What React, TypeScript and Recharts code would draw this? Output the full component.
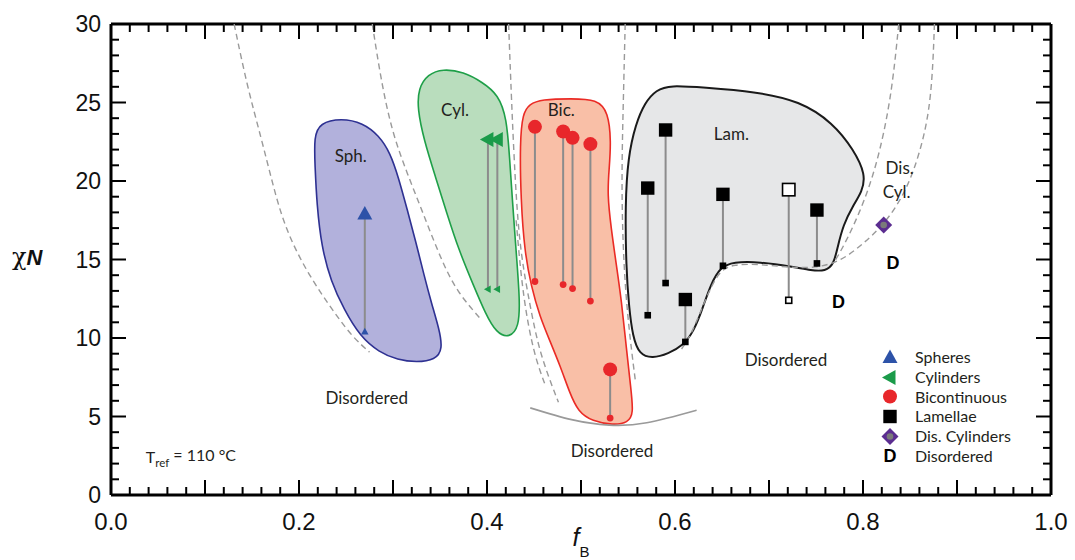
import React from 'react';
import { ComposedChart, XAxis, YAxis, Scatter, Legend } from 'recharts';

// Phase diagram: segregation strength chiN against block fraction fB

// samples: f = fB, hi = chiN of the ordered marker, lo = chiN of the lower end of the stem
const spheres = [{ f: 0.27, hi: 17.9, lo: 10.4 }];
const cylinders = [
  { f: 0.401, hi: 22.65, lo: 13.1 },
  { f: 0.411, hi: 22.65, lo: 13.1 },
];
const bicontinuous = [
  { f: 0.451, hi: 23.45, lo: 13.6 },
  { f: 0.481, hi: 23.15, lo: 13.4 },
  { f: 0.491, hi: 22.75, lo: 13.15 },
  { f: 0.51, hi: 22.35, lo: 12.35 },
  { f: 0.531, hi: 8.0, lo: 4.9 },
];
const lamellae = [
  { f: 0.571, hi: 19.55, lo: 11.45 },
  { f: 0.59, hi: 23.25, lo: 13.5 },
  { f: 0.611, hi: 12.45, lo: 9.75 },
  { f: 0.651, hi: 19.15, lo: 14.6 },
  { f: 0.751, hi: 18.15, lo: 14.75 },
];
const lamellaeOpen = [{ f: 0.721, hi: 19.45, lo: 12.4 }];
const disCylinders = [{ f: 0.822, chiN: 17.2 }];
const disorderedMarks = [
  { f: 0.832, chiN: 14.8 },
  { f: 0.774, chiN: 12.3 },
];

// outlines of the ordered regions, [fB, chiN]
const sphRegion = [
  [0.222, 23.7], [0.245, 24.0], [0.268, 23.7], [0.285, 22.9], [0.297, 21.8], [0.306, 20.2],
  [0.315, 18.2], [0.324, 16.2], [0.333, 14.0], [0.341, 12.2], [0.349, 10.6], [0.353, 9.3],
  [0.345, 8.6], [0.325, 8.45], [0.305, 8.6], [0.285, 9.1], [0.265, 10.1], [0.248, 11.8],
  [0.234, 13.6], [0.224, 15.8], [0.219, 18.5], [0.217, 21.0], [0.216, 22.8],
];
const cylRegion = [
  [0.327, 25.9], [0.337, 26.8], [0.353, 27.15], [0.375, 26.95], [0.395, 26.3], [0.412, 25.5],
  [0.421, 24.0], [0.424, 21.5], [0.427, 18.8], [0.431, 15.5], [0.435, 12.4], [0.434, 10.7],
  [0.424, 10.0], [0.41, 10.3], [0.398, 11.6], [0.386, 13.3], [0.37, 15.6], [0.357, 18.0],
  [0.345, 20.3], [0.333, 22.6], [0.326, 24.6],
];
const bicRegion = [
  [0.445, 24.9], [0.458, 25.2], [0.49, 25.25], [0.517, 25.2], [0.529, 24.4], [0.532, 22.5],
  [0.53, 20.8], [0.528, 19.2], [0.532, 17.0], [0.538, 14.5], [0.543, 12.4], [0.548, 9.5],
  [0.553, 6.8], [0.556, 5.2], [0.55, 4.6], [0.534, 4.45], [0.512, 4.7], [0.497, 5.3],
  [0.488, 6.5], [0.478, 8.2], [0.467, 9.8], [0.456, 11.4], [0.447, 13.3], [0.44, 15.5],
  [0.436, 18.8], [0.435, 22.5], [0.438, 24.3],
];
const lamRegion = [
  [0.568, 25.0], [0.58, 25.8], [0.595, 26.1], [0.63, 25.95], [0.685, 25.7], [0.733, 25.1],
  [0.768, 23.7], [0.79, 22.0], [0.803, 20.4], [0.799, 19.3], [0.789, 18.4], [0.779, 17.2],
  [0.773, 15.8], [0.769, 14.7], [0.76, 14.25], [0.745, 14.3], [0.725, 14.55], [0.69, 14.85],
  [0.662, 14.85], [0.648, 14.5], [0.638, 13.4], [0.63, 12.0], [0.62, 10.4], [0.608, 9.5],
  [0.593, 9.0], [0.576, 8.7], [0.562, 8.95], [0.555, 10.1], [0.551, 12.0], [0.548, 14.5],
  [0.547, 18.5], [0.55, 21.5], [0.558, 23.6],
];

// theoretical boundaries (dashed) and the lower disordered boundary (solid)
const boundaryA = [[0.131, 30], [0.145, 26], [0.16, 22.7], [0.172, 19.8], [0.185, 17.0], [0.209, 14.1], [0.24, 11.4], [0.258, 10.0], [0.275, 9.1]];
const boundaryB = [[0.278, 30], [0.287, 26.5], [0.299, 23.1], [0.315, 20.5], [0.331, 18.1], [0.353, 14.7], [0.37, 12.8], [0.392, 11.3]];
const boundaryC = [[0.423, 30], [0.426, 25.2], [0.43, 19.9], [0.435, 15.6], [0.446, 12.0], [0.456, 9.0], [0.476, 5.9]];
const boundaryC2 = [[0.431, 17.5], [0.436, 14.0], [0.443, 11.0], [0.452, 8.6], [0.462, 7.0]];
const boundaryD = [[0.547, 30], [0.545, 25], [0.543, 20], [0.545, 15], [0.55, 11], [0.558, 7.2]];
const boundaryE = [[0.838, 30], [0.83, 25.2], [0.814, 20.8], [0.796, 17.9], [0.779, 15.8], [0.77, 14.9]];
const boundaryF = [
  [0.876, 30], [0.873, 25.2], [0.862, 22.0], [0.845, 19.2], [0.822, 17.2], [0.8, 16.0],
  [0.777, 14.9], [0.75, 14.45], [0.72, 14.5], [0.69, 14.7], [0.662, 14.7], [0.648, 14.3],
  [0.638, 13.2], [0.628, 11.8], [0.617, 10.2], [0.607, 9.3],
];
const odtBottom = [[0.446, 5.55], [0.49, 4.8], [0.53, 4.45], [0.57, 4.6], [0.623, 5.4]];

const regionLabels = [
  { x: 0.255, y: 21.6, text: 'Sph.' },
  { x: 0.366, y: 24.5, text: 'Cyl.' },
  { x: 0.479, y: 24.5, text: 'Bic.' },
  { x: 0.66, y: 23.0, text: 'Lam.' },
  { x: 0.272, y: 6.2, text: 'Disordered' },
  { x: 0.718, y: 8.6, text: 'Disordered' },
  { x: 0.533, y: 2.8, text: 'Disordered' },
];
const sideLabels = [
  { x: 0.824, y: 20.8, text: 'Dis.' },
  { x: 0.821, y: 19.3, text: 'Cyl.' },
];
const noteLabel = [{ x: 0.037, y: 2.4 }];

const xTicks = Array.from({ length: 51 }, (_, i) => i / 50);
const yTicks = Array.from({ length: 31 }, (_, i) => i);

const legendItems = [
  { kind: 'sph', name: 'Spheres' },
  { kind: 'cyl', name: 'Cylinders' },
  { kind: 'bic', name: 'Bicontinuous' },
  { kind: 'lam', name: 'Lamellae' },
  { kind: 'dcyl', name: 'Dis. Cylinders' },
  { kind: 'dis', name: 'Disordered' },
];

const FONT = 'Lato, "Open Sans", sans-serif';
const AXIS_FONT = '"Liberation Sans", Arial, sans-serif';
const TEXT = '#231f20';
const BLUE = '#2d52a8';
const GREEN = '#1b9b4a';
const RED = '#e8272b';
const PURPLE = '#5b2d90';
const STEM = '#8c8c8c';

const pts = (arr: number[][]) => arr.map(([x, y]) => ({ x, y }));
const stemPts = (m: { f: number; hi: number; lo: number }) => [
  { x: m.f, y: m.hi, big: true },
  { x: m.f, y: m.lo, big: false },
];

const Empty = () => <g />;

function marker(kind: string, cx: number, cy: number, big: boolean) {
  const s = big ? 1 : 0.5;
  switch (kind) {
    case 'sph':
      return (
        <polygon
          points={`${cx},${cy - 8 * s} ${cx + 7.5 * s},${cy + 5.5 * s} ${cx - 7.5 * s},${cy + 5.5 * s}`}
          fill={BLUE}
        />
      );
    case 'cyl':
      return (
        <polygon
          points={`${cx - 8 * s},${cy} ${cx + 5.5 * s},${cy - 7.5 * s} ${cx + 5.5 * s},${cy + 7.5 * s}`}
          fill={GREEN}
        />
      );
    case 'bic':
      return <circle cx={cx} cy={cy} r={big ? 7 : 3.4} fill={RED} />;
    case 'lam': {
      const h = big ? 6.7 : 3.3;
      return <rect x={cx - h} y={cy - h} width={2 * h} height={2 * h} fill="#000" />;
    }
    case 'lamOpen': {
      const h = big ? 6.2 : 3;
      return <rect x={cx - h} y={cy - h} width={2 * h} height={2 * h} fill="#fff" stroke="#000" strokeWidth={1.6} />;
    }
    case 'dcyl':
      return (
        <g>
          <polygon points={`${cx},${cy - 8.5} ${cx + 8.5},${cy} ${cx},${cy + 8.5} ${cx - 8.5},${cy}`} fill={PURPLE} />
          <circle cx={cx} cy={cy} r={3.3} fill="#7a7a7a" />
        </g>
      );
    case 'dis':
      return (
        <text x={cx} y={cy} dy="0.36em" textAnchor="middle" fontFamily={AXIS_FONT} fontWeight="bold" fontSize={18} fill="#000">
          D
        </text>
      );
    default:
      return <g />;
  }
}

const stemShape = (kind: string) => (p: any) => marker(kind, p.cx, p.cy, p.payload.big);
const pointShape = (kind: string) => (p: any) => marker(kind, p.cx, p.cy, true);

const centeredText = (p: any) => (
  <text x={p.cx} y={p.cy} dy="0.35em" textAnchor="middle" fontFamily={FONT} fontSize={17} fill={TEXT}>
    {p.payload.text}
  </text>
);
const leftText = (p: any) => (
  <text x={p.cx} y={p.cy} dy="0.35em" textAnchor="start" fontFamily={FONT} fontSize={17} fill={TEXT}>
    {p.payload.text}
  </text>
);
const noteText = (p: any) => (
  <text x={p.cx} y={p.cy} dy="0.35em" fontFamily={FONT} fontSize={16} fill={TEXT}>
    T<tspan fontSize={11.5} dy="0.35em">ref</tspan>
    <tspan dy="-0.35em"> = 110 °C</tspan>
  </text>
);

// bottom axis: inward ticks, labels every 0.2, axis title under 0.5
const BottomTick = (p: any) => {
  const v = p.payload.value;
  const i = Math.round(v * 50);
  const major = i % 5 === 0;
  return (
    <g>
      <line x1={p.x} x2={p.x} y1={p.y} y2={p.y - (major ? 15 : 8)} stroke="#000" strokeWidth={2} />
      {i % 10 === 0 && (
        <text x={p.x} y={p.y + 35} textAnchor="middle" fontFamily={AXIS_FONT} fontSize={24} fill="#111">
          {v.toFixed(1)}
        </text>
      )}
      {i === 25 && (
        <text x={p.x} y={p.y + 51} textAnchor="middle" fontFamily={AXIS_FONT} fill="#111">
          <tspan fontSize={25} fontStyle="italic">f</tspan>
          <tspan fontSize={15} dy="11">B</tspan>
        </text>
      )}
    </g>
  );
};

const TopTick = (p: any) => {
  const i = Math.round(p.payload.value * 50);
  return <line x1={p.x} x2={p.x} y1={p.y} y2={p.y + (i % 5 === 0 ? 15 : 8)} stroke="#000" strokeWidth={2} />;
};

// left axis: inward ticks, labels every 5, axis title beside 15
const LeftTick = (p: any) => {
  const v = p.payload.value;
  const major = v % 5 === 0;
  return (
    <g>
      <line x1={p.x} x2={p.x + (major ? 15 : 8)} y1={p.y} y2={p.y} stroke="#000" strokeWidth={2} />
      {major && (
        <text x={p.x - 10} y={p.y} dy="0.36em" textAnchor="end" fontFamily={AXIS_FONT} fontSize={23} fill="#111">
          {v}
        </text>
      )}
      {v === 15 && (
        <text x={p.x - 99} y={p.y} dy="0.36em" fill="#111">
          <tspan fontFamily='"DejaVu Serif", serif' fontSize={24}>χ</tspan>
          <tspan fontFamily={AXIS_FONT} fontSize={22} fontWeight="bold" fontStyle="italic">N</tspan>
        </text>
      )}
    </g>
  );
};

const RightTick = (p: any) => {
  const major = p.payload.value % 5 === 0;
  return <line x1={p.x} x2={p.x - (major ? 15 : 8)} y1={p.y} y2={p.y} stroke="#000" strokeWidth={2} />;
};

const LegendBox = () => (
  <div style={{ fontFamily: FONT, fontSize: 16, color: TEXT }}>
    {legendItems.map((it) => (
      <div key={it.name} style={{ display: 'flex', alignItems: 'center', height: 19.7 }}>
        <svg width={22} height={19} style={{ flex: 'none' }}>
          {marker(it.kind, 11, 9.5, true)}
        </svg>
        <span style={{ marginLeft: 14, lineHeight: '18px', whiteSpace: 'nowrap' }}>{it.name}</span>
      </div>
    ))}
  </div>
);

const frame = { stroke: '#000', strokeWidth: 3 };

export default function App() {
  // axes are 1px thick so they render; margins keep the plot at x 111..1051, y 24..495
  return (
    <div style={{ position: 'absolute', left: 0, top: 0, width: 1075, height: 560, background: '#fff' }}>
      <ComposedChart width={1075} height={560} margin={{ top: 23, right: 23, bottom: 64, left: 110 }}>
        <XAxis
          dataKey="x" type="number" domain={[0, 1]} allowDataOverflow ticks={xTicks} interval={0}
          height={1} tickSize={0} tickMargin={0} tickLine={false} axisLine={frame} tick={(p: any) => <BottomTick {...p} />}
        />
        <XAxis
          xAxisId="top" orientation="top" dataKey="x" type="number" domain={[0, 1]} allowDataOverflow ticks={xTicks}
          interval={0} height={1} tickSize={0} tickMargin={0} tickLine={false} axisLine={frame} tick={(p: any) => <TopTick {...p} />}
        />
        <YAxis
          dataKey="y" type="number" domain={[0, 30]} allowDataOverflow ticks={yTicks} interval={0}
          width={1} tickSize={0} tickMargin={0} tickLine={false} axisLine={frame} tick={(p: any) => <LeftTick {...p} />}
        />
        <YAxis
          yAxisId="right" orientation="right" dataKey="y" type="number" domain={[0, 30]} allowDataOverflow ticks={yTicks}
          interval={0} width={1} tickSize={0} tickMargin={0} tickLine={false} axisLine={frame} tick={(p: any) => <RightTick {...p} />}
        />

        <Scatter xAxisId="top" yAxisId="right" data={[{ x: 0, y: 0 }, { x: 1, y: 30 }]} shape={Empty} isAnimationActive={false} />

        <Scatter data={pts(sphRegion)} line={{ fill: '#b2b1dc', stroke: '#2e3192', strokeWidth: 1.6 }} lineJointType="basisClosed" shape={Empty} isAnimationActive={false} />
        <Scatter data={pts(cylRegion)} line={{ fill: '#b9ddbd', stroke: '#1e9f48', strokeWidth: 1.6 }} lineJointType="basisClosed" shape={Empty} isAnimationActive={false} />
        <Scatter data={pts(bicRegion)} line={{ fill: '#f9bfa7', stroke: '#ea2b25', strokeWidth: 1.6 }} lineJointType="basisClosed" shape={Empty} isAnimationActive={false} />
        <Scatter data={pts(lamRegion)} line={{ fill: '#e6e7e8', stroke: '#1a1a1a', strokeWidth: 2 }} lineJointType="basisClosed" shape={Empty} isAnimationActive={false} />

        {[boundaryA, boundaryB, boundaryC, boundaryC2, boundaryD, boundaryE, boundaryF].map((b, i) => (
          <Scatter
            key={`b${i}`} data={pts(b)} line={{ stroke: '#9a9a9a', strokeWidth: 1.4, strokeDasharray: '6 4' }}
            lineJointType="basis" shape={Empty} isAnimationActive={false}
          />
        ))}
        <Scatter data={pts(odtBottom)} line={{ stroke: '#9a9a9a', strokeWidth: 1.6 }} lineJointType="natural" shape={Empty} isAnimationActive={false} />

        <Scatter data={regionLabels} shape={centeredText} isAnimationActive={false} />
        <Scatter data={sideLabels} shape={leftText} isAnimationActive={false} />
        <Scatter data={noteLabel} shape={noteText} isAnimationActive={false} />

        {spheres.map((m, i) => (
          <Scatter key={`s${i}`} data={stemPts(m)} line={{ stroke: STEM, strokeWidth: 2 }} shape={stemShape('sph')} isAnimationActive={false} />
        ))}
        {cylinders.map((m, i) => (
          <Scatter key={`c${i}`} data={stemPts(m)} line={{ stroke: STEM, strokeWidth: 2 }} shape={stemShape('cyl')} isAnimationActive={false} />
        ))}
        {bicontinuous.map((m, i) => (
          <Scatter key={`g${i}`} data={stemPts(m)} line={{ stroke: STEM, strokeWidth: 2 }} shape={stemShape('bic')} isAnimationActive={false} />
        ))}
        {lamellae.map((m, i) => (
          <Scatter key={`l${i}`} data={stemPts(m)} line={{ stroke: STEM, strokeWidth: 2 }} shape={stemShape('lam')} isAnimationActive={false} />
        ))}
        {lamellaeOpen.map((m, i) => (
          <Scatter key={`o${i}`} data={stemPts(m)} line={{ stroke: STEM, strokeWidth: 2 }} shape={stemShape('lamOpen')} isAnimationActive={false} />
        ))}
        <Scatter data={disCylinders.map((d) => ({ x: d.f, y: d.chiN }))} shape={pointShape('dcyl')} isAnimationActive={false} />
        <Scatter data={disorderedMarks.map((d) => ({ x: d.f, y: d.chiN }))} shape={pointShape('dis')} isAnimationActive={false} />

        <Legend
          layout="vertical" align="center" verticalAlign="middle" content={<LegendBox />}
          wrapperStyle={{ left: 879, top: 347.5, width: 190, height: 120 }}
        />
      </ComposedChart>
    </div>
  );
}
